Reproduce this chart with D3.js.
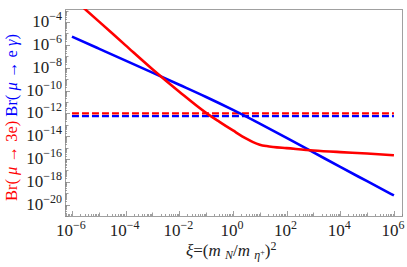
<!DOCTYPE html>
<html lang="en">
<head>
<meta charset="UTF-8">
<title>Br vs xi</title>
<script src="https://cdn.jsdelivr.net/npm/d3@7"></script>
<style>
  body { margin: 0; background: #fff; }
  text { font-family: "Liberation Serif", "Times New Roman", serif; }
</style>
</head>
<body>
<script>
// data
var xiBlue = [1e-6, 1e-5, 1e-4, 1e-3, 1e-2, 1e-1, 1, 10, 100, 1e3, 1e4, 1e5, 1e6];
var brMuEGamma = [5.25e-6, 4.7e-7, 4.2e-8, 3.7e-9, 3.2e-10, 2.7e-11, 2.0e-12, 1.26e-13, 7.1e-15, 3.8e-16, 2.0e-17, 1.12e-18, 6.3e-20];
var xiRed = [1e-6, 1e-5, 1e-4, 1e-3, 1e-2, 1e-1, 0.316, 1, 3.16, 5.62, 10, 17.8, 31.6, 100, 1e3, 1e4, 1e5, 1e6];
var brMu3e = [1.4e-2, 1.15e-4, 9.1e-7, 7.4e-9, 7.9e-11, 1.1e-12, 1.8e-13, 3.16e-14, 6.0e-15, 3.0e-15, 1.8e-15, 1.35e-15, 1.12e-15, 8.9e-16, 5.6e-16, 4.0e-16, 3.0e-16, 2.1e-16];
var boundMu3e = 1e-12;
var boundMuEGamma = 5.7e-13;
var boundRange = [1e-6, 1e6];
var xTickExp = [-6, -4, -2, 0, 2, 4, 6];
var yTickExp = [-20, -18, -16, -14, -12, -10, -8, -6, -4];

var width = 407, height = 267;
var pLeft = 65, pRight = 402, pTop = 9, pBottom = 216;

var svg = d3.select("body").append("svg")
	.attr("width", width)
	.attr("height", height);

var x = d3.scaleLog().domain([5.5e-7, 2.0e6]).range([pLeft, pRight]);
var y = d3.scaleLog().domain([1e-21, 1.4e-3]).range([pBottom, pTop]);

svg.append("clipPath").attr("id", "clip")
	.append("rect")
	.attr("x", pLeft).attr("y", pTop)
	.attr("width", pRight - pLeft).attr("height", pBottom - pTop);

// frame
svg.append("rect")
	.attr("x", pLeft + 0.5).attr("y", pTop + 0.5)
	.attr("width", pRight - pLeft).attr("height", pBottom - pTop)
	.attr("fill", "none")
	.attr("stroke", "#a0a0a0")
	.attr("stroke-width", 1);

// ticks: every decade plus 2..9 minors
var ticksG = svg.append("g").attr("stroke", "#888").attr("stroke-width", 0.8);
function decadeTicks(lo, hi) {
	var out = [];
	for (var e = lo; e <= hi; e++) {
		for (var m = 1; m < 10; m++) out.push({v: m * Math.pow(10, e), major: m === 1, labeled: m === 1 && e % 2 === 0});
	}
	return out;
}
decadeTicks(-7, 6).filter(function (t) { return t.v >= x.domain()[0] && t.v <= x.domain()[1]; })
	.forEach(function (t) {
		var px = Math.round(x(t.v)) + 0.5;
		ticksG.append("line")
			.attr("x1", px).attr("x2", px)
			.attr("y1", pBottom).attr("y2", pBottom - (t.labeled ? 5 : t.major ? 3.5 : 2));
	});
decadeTicks(-21, -3).filter(function (t) { return t.v >= y.domain()[0] && t.v <= y.domain()[1]; })
	.forEach(function (t) {
		var py = Math.round(y(t.v)) + 0.5;
		ticksG.append("line")
			.attr("y1", py).attr("y2", py)
			.attr("x1", pLeft).attr("x2", pLeft + (t.labeled ? 5 : t.major ? 3.5 : 2));
	});

// tick labels
xTickExp.forEach(function (e) {
	var t = svg.append("text")
		.attr("x", x(Math.pow(10, e)) - 1)
		.attr("y", 236)
		.attr("text-anchor", "middle")
		.attr("font-size", 17)
		.attr("fill", "#222");
	t.append("tspan").text("10");
	t.append("tspan").attr("dy", -7).attr("font-size", 12).text(e < 0 ? "\u2212" + (-e) : e);
});
yTickExp.forEach(function (e) {
	var t = svg.append("text")
		.attr("x", 62)
		.attr("y", y(Math.pow(10, e)) + 5)
		.attr("text-anchor", "end")
		.attr("font-size", 17)
		.attr("fill", "#222");
	t.append("tspan").text("10");
	t.append("tspan").attr("dy", -7).attr("font-size", 12).text("\u2212" + (-e));
});

// experimental bounds (dashed)
var plot = svg.append("g").attr("clip-path", "url(#clip)");
[[boundMu3e, "#ff0000"], [boundMuEGamma, "#0000ff"]].forEach(function (b) {
	plot.append("line")
		.attr("x1", x(boundRange[0])).attr("x2", x(boundRange[1]))
		.attr("y1", y(b[0])).attr("y2", y(b[0]))
		.attr("stroke", b[1])
		.attr("stroke-width", 2.4)
		.attr("stroke-dasharray", "7,3");
});

var line = d3.line()
	.x(function (d) { return x(d[0]); })
	.y(function (d) { return y(d[1]); })
	.curve(d3.curveMonotoneX);

plot.append("path")
	.attr("d", line(d3.zip(xiBlue, brMuEGamma)))
	.attr("fill", "none")
	.attr("stroke", "#0000ff")
	.attr("stroke-width", 2.6);

plot.append("path")
	.attr("d", line(d3.zip(xiRed, brMu3e)))
	.attr("fill", "none")
	.attr("stroke", "#ff0000")
	.attr("stroke-width", 2.6);

// y title
var yt = svg.append("text")
	.attr("transform", "translate(17,201) rotate(-90)")
	.attr("font-size", 16.5);
yt.append("tspan").attr("fill", "#ff0000").text("Br( ");
yt.append("tspan").attr("fill", "#ff0000").attr("font-style", "italic").text("\u03bc");
yt.append("tspan").attr("fill", "#ff0000").text(" \u2192 3e) ");
yt.append("tspan").attr("fill", "#0000ff").text("Br( ");
yt.append("tspan").attr("fill", "#0000ff").attr("font-style", "italic").text("\u03bc");
yt.append("tspan").attr("fill", "#0000ff").text(" \u2192 e ");
yt.append("tspan").attr("fill", "#0000ff").attr("font-style", "italic").text("\u03b3");
yt.append("tspan").attr("fill", "#0000ff").text(")");

// x title
var xt = svg.append("text")
	.attr("x", 186)
	.attr("y", 256)
	.attr("font-size", 17)
	.attr("fill", "#222");
xt.append("tspan").attr("font-style", "italic").text("\u03be");
xt.append("tspan").text("=(");
xt.append("tspan").attr("font-style", "italic").text("m ");
xt.append("tspan").attr("font-style", "italic").attr("font-size", 12).attr("dy", 3).text("N");
xt.append("tspan").attr("dy", -3).text("/");
xt.append("tspan").attr("font-style", "italic").text("m ");
xt.append("tspan").attr("font-style", "italic").attr("font-size", 12).attr("dy", 3).text("\u03b7");
xt.append("tspan").attr("font-size", 8).attr("dy", -4).text("+");
xt.append("tspan").attr("dy", 1).text(")");
xt.append("tspan").attr("font-size", 12).attr("dy", -6).text("2");
</script>
</body>
</html>
